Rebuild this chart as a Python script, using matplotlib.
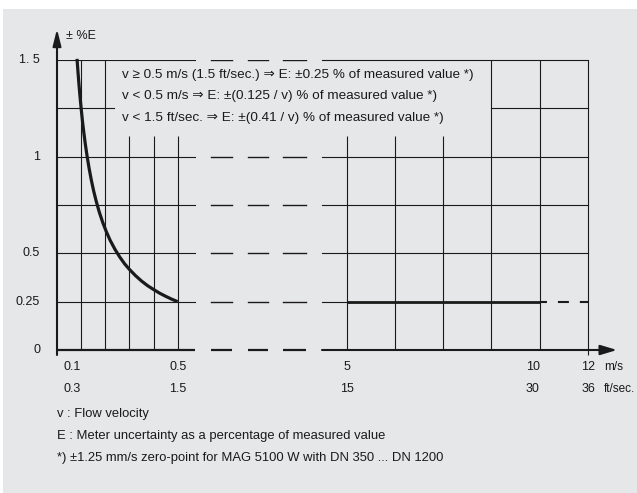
import numpy as np
import matplotlib.pyplot as plt
from matplotlib.patches import Rectangle, FancyArrowPatch

plt.rcParams['font.family'] = ['Liberation Sans', 'DejaVu Sans']
plt.rcParams['lines.scale_dashes'] = False

# --- values ---
# the velocity axis is broken: each piece has its own linear scale
V_KNOTS = [0, 0.5, 5, 10, 12]      # m/s
U_KNOTS = [0, 5, 12, 20, 22]       # grid cells along the drawn axis

curve_v = [0.083, 0.087, 0.091, 0.095, 0.1, 0.105, 0.11, 0.117, 0.125, 0.133,
           0.142, 0.152, 0.163, 0.175, 0.19, 0.205, 0.22, 0.24, 0.26, 0.28,
           0.3, 0.325, 0.35, 0.375, 0.4, 0.425, 0.45, 0.475, 0.5]
curve_e = [1.506, 1.437, 1.374, 1.316, 1.25, 1.190, 1.136, 1.068, 1.0, 0.940,
           0.880, 0.822, 0.767, 0.714, 0.658, 0.610, 0.568, 0.521, 0.481, 0.446,
           0.417, 0.385, 0.357, 0.333, 0.313, 0.294, 0.278, 0.263, 0.25]
flat_v = [5, 10]
flat_e = [0.25, 0.25]
ext_v = [10, 12]
ext_e = [0.25, 0.25]

y_ticks = [0, 0.25, 0.5, 1, 1.5]
y_labels = ['0', '0.25', '0.5', '1', '1. 5']
x_ticks = [0.1, 0.5, 5, 10, 12]
x_labels_ms = ['0.1', '0.5', '5', '10', '12']
x_labels_ft = ['0.3', '1.5', '15', '30', '36']

grid_e = [0.25, 0.5, 0.75, 1.0, 1.5]
vgrid_full = [0.1, 0.2, 8.75, 10]
vgrid_short = [0.3, 0.4, 0.5, 5, 6.25, 7.5]

notes = ['v \u2265 0.5 m/s (1.5 ft/sec.) \u21d2 E: \u00b10.25 % of measured value *)',
         'v < 0.5 m/s \u21d2 E: \u00b1(0.125 / v) % of measured value *)',
         'v < 1.5 ft/sec. \u21d2 E: \u00b1(0.41 / v) % of measured value *)']
footnotes = ['v : Flow velocity',
             'E : Meter uncertainty as a percentage of measured value',
             '*) \u00b11.25 mm/s zero-point for MAG 5100 W with DN 350 ... DN 1200']

# --- layout (pixels of the 637x493 picture) ---
W, H = 637, 493
X0, X1, Y0, Y1 = 57, 588, 350, 60
INK = '#1a1a1a'
FS = 9


def fx(px):
    return px / W


def fy(py):
    return 1 - py / H


def axx(px):
    return (px - X0) / (X1 - X0)


def axy(py):
    return (Y0 - py) / (Y0 - Y1)


fig = plt.figure(figsize=(W / 100, H / 100), dpi=100)
fig.patch.set_facecolor('white')
fig.patches.append(Rectangle((fx(3), 0), 1, fy(9), transform=fig.transFigure,
                             facecolor='#e6e7e9', edgecolor='none', zorder=-5))

ax = fig.add_axes([fx(X0), fy(Y0), fx(X1) - fx(X0), fy(Y1) - fy(Y0)])
ax.set_facecolor('none')
fwd = lambda v: np.interp(v, V_KNOTS, U_KNOTS)
inv = lambda u: np.interp(u, U_KNOTS, V_KNOTS)
ax.set_xscale('function', functions=(fwd, inv))
ax.set_xlim(0, 12)
ax.set_ylim(0, 1.5)
for s in ax.spines.values():
    s.set_visible(False)
ax.set_xticks([])
ax.set_yticks([])


def frac(v):
    return fwd(v) / U_KNOTS[-1]


# horizontal grid, left part / break dashes / right part
dashes_px = [(211, 232), (248, 268), (283, 306)]
for e in grid_e:
    ax.axhline(e, 0, axx(195), color=INK, lw=0.8)
    for a, b in dashes_px:
        ax.axhline(e, axx(a), axx(b), color=INK, lw=1.0)
    right_end = frac(ext_v[0]) if e == flat_e[0] else 1
    ax.axhline(e, axx(322), right_end, color=INK, lw=0.8, clip_on=False)
# 1.25 line only where the notes leave room
ax.axhline(1.25, 0, axx(114), color=INK, lw=0.8)
ax.axhline(1.25, frac(8.75), 1, color=INK, lw=0.8, clip_on=False)

# vertical grid
ax.vlines(vgrid_full, 0, 1.5, color=INK, lw=0.8, clip_on=False)
ax.vlines(vgrid_short, 0, (Y0 - 136) / (Y0 - Y1) * 1.5, color=INK, lw=0.8, clip_on=False)
ax.vlines([12], -0.025, 1.5, color=INK, lw=0.8, clip_on=False)

# axes with arrows
ax.plot([0, axx(195)], [0, 0], transform=ax.transAxes, color=INK, lw=1.6,
        solid_capstyle='butt', clip_on=False)
for a, b in dashes_px:
    ax.plot([axx(a), axx(b)], [0, 0], transform=ax.transAxes, color=INK, lw=1.6,
            solid_capstyle='butt', clip_on=False)
ax.add_patch(FancyArrowPatch((axx(322), 0), (axx(617), 0), transform=ax.transAxes,
                             arrowstyle='-|>,head_length=1.0,head_width=0.3',
                             mutation_scale=10, lw=1.5, color=INK, clip_on=False,
                             shrinkA=0, shrinkB=0))
ax.add_patch(FancyArrowPatch((0, axy(355)), (0, axy(29)), transform=ax.transAxes,
                             arrowstyle='-|>,head_length=1.0,head_width=0.25',
                             mutation_scale=10, lw=1.5, color=INK, clip_on=False,
                             shrinkA=0, shrinkB=0))

# data
ax.plot(curve_v, curve_e, color=INK, lw=2.3, solid_capstyle='butt',
        solid_joinstyle='round', clip_on=False)
ax.plot(flat_v, flat_e, color=INK, lw=2.0, solid_capstyle='butt', clip_on=False)
ax.plot(ext_v, ext_e, color=INK, lw=1.5, linestyle=(2.9, (7.9, 7.9)), clip_on=False)

# tick labels
ytr = ax.get_yaxis_transform()
for e, lab in zip(y_ticks, y_labels):
    ax.text(axx(40), e, lab, transform=ytr, ha='right', va='center', fontsize=FS, color=INK)
xtr = ax.get_xaxis_transform()
x_ha = ['right', 'center', 'center', 'right', 'center']
for v, lab1, lab2, ha in zip(x_ticks, x_labels_ms, x_labels_ft, x_ha):
    ax.text(v, axy(367), lab1, transform=xtr, ha=ha, va='center', fontsize=FS, color=INK)
    ax.text(v, axy(389), lab2, transform=xtr, ha=ha, va='center', fontsize=FS, color=INK)
fig.text(fx(604), fy(367), 'm/s', ha='left', va='center', fontsize=FS - 0.5, color=INK)
fig.text(fx(604), fy(389), 'ft/sec.', ha='left', va='center', fontsize=FS - 0.5, color=INK)
fig.text(fx(66), fy(36), '\u00b1 %E', ha='left', va='center', fontsize=FS, color=INK)

for i, t in enumerate(notes):
    fig.text(fx(122), fy(75 + 21.5 * i), t, ha='left', va='center', fontsize=9.7,
             color=INK)
for i, t in enumerate(footnotes):
    fig.text(fx(57), fy(414 + 22 * i), t, ha='left', va='center', fontsize=9.4, color=INK)

fig.savefig('out.png', dpi=100)
